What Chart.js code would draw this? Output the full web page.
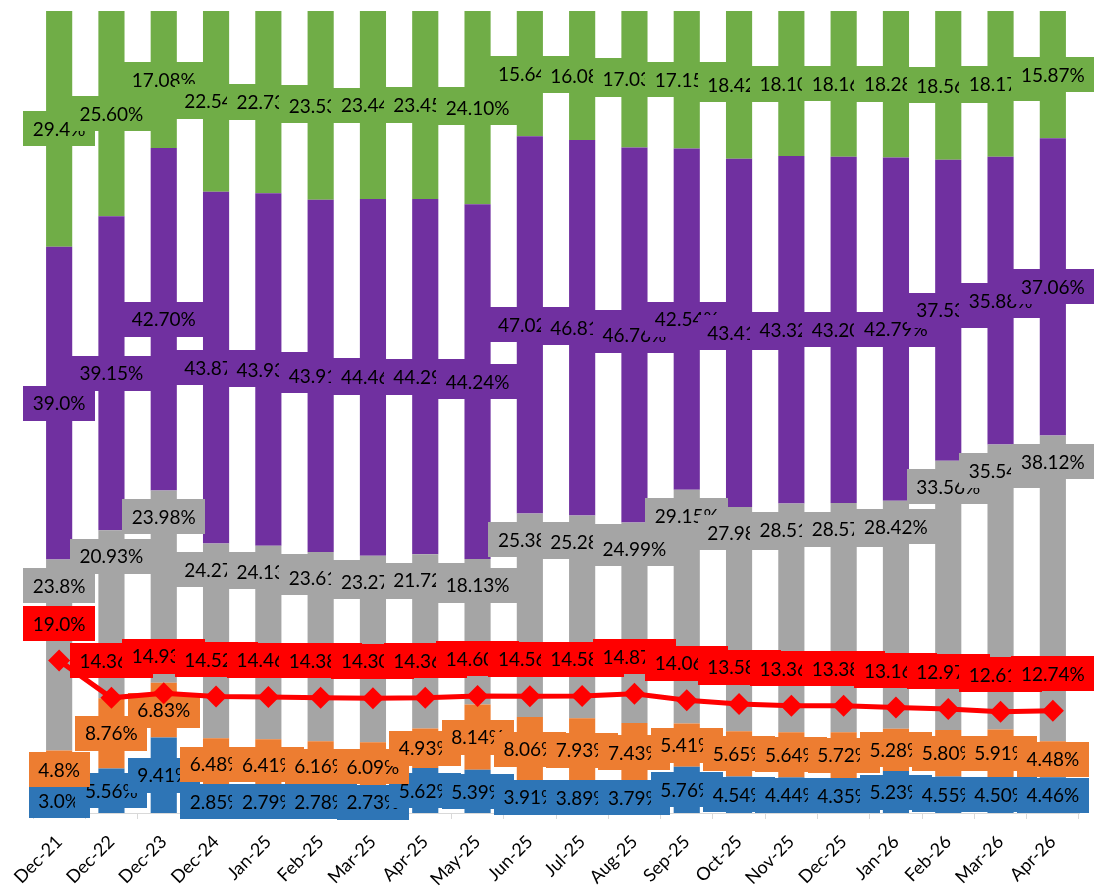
<!DOCTYPE html>
<html lang="en">
<head>
  <meta charset="UTF-8">
  <title>Share by month</title>
  <style>
    html, body {
      margin: 0;
      padding: 0;
      background: #fff;
      overflow: hidden;
    }
    canvas {
      display: block;
    }
  </style>
  <script src="https://cdn.jsdelivr.net/npm/chart.js"></script>
</head>
<body>
<canvas id="shareChart" width="1102" height="893"></canvas>

<script>
  // categories
  const months = ['Dec-21', 'Dec-22', 'Dec-23', 'Dec-24', 'Jan-25', 'Feb-25', 'Mar-25', 'Apr-25', 'May-25', 'Jun-25',
    'Jul-25', 'Aug-25', 'Sep-25', 'Oct-25', 'Nov-25', 'Dec-25', 'Jan-26', 'Feb-26', 'Mar-26', 'Apr-26'];

  // stacked shares (%), bottom to top
  const blueVals = [3.0, 5.56, 9.41, 2.85, 2.79, 2.78, 2.73, 5.62, 5.39, 3.91, 3.89, 3.79, 5.76, 4.54, 4.44, 4.35, 5.23, 4.55, 4.50, 4.46];
  const orangeVals = [4.8, 8.76, 6.83, 6.48, 6.41, 6.16, 6.09, 4.93, 8.14, 8.06, 7.93, 7.43, 5.41, 5.65, 5.64, 5.72, 5.28, 5.80, 5.91, 4.48];
  const grayVals = [23.8, 20.93, 23.98, 24.27, 24.13, 23.61, 23.27, 21.72, 18.13, 25.38, 25.28, 24.99, 29.15, 27.98, 28.51, 28.57, 28.42, 33.56, 35.54, 38.12];
  const purpleVals = [39.0, 39.15, 42.70, 43.87, 43.93, 43.91, 44.46, 44.29, 44.24, 47.02, 46.81, 46.76, 42.54, 43.41, 43.32, 43.20, 42.79, 37.53, 35.88, 37.06];
  const greenVals = [29.4, 25.60, 17.08, 22.54, 22.73, 23.53, 23.44, 23.45, 24.10, 15.64, 16.08, 17.03, 17.15, 18.42, 18.10, 18.16, 18.28, 18.56, 18.17, 15.87];

  // red line (%)
  const redVals = [19.0, 14.36, 14.93, 14.52, 14.46, 14.38, 14.30, 14.36, 14.60, 14.56, 14.58, 14.87, 14.06, 13.58, 13.36, 13.38, 13.16, 12.97, 12.61, 12.74];

  // decimals shown in the data labels for each month
  const labelDecimals = [1, 2, 2, 2, 2, 2, 2, 2, 2, 2, 2, 2, 2, 2, 2, 2, 2, 2, 2, 2];

  const BLUE = '#2E75B6', ORANGE = '#ED7D31', GRAY = '#A5A5A5', PURPLE = '#7030A0', GREEN = '#70AD47', RED = '#FF0000';
  const LABEL_FONT = '19px Lato';

  function fmt(v, i) {
    return v.toFixed(labelDecimals[i]) + '%';
  }

  // label with a filled box like the spreadsheet one
  function drawBoxLabel(ctx, text, cx, cy, bg) {
    ctx.font = LABEL_FONT;
    const w = Math.round(ctx.measureText(text).width + 19);
    const h = 35;
    ctx.fillStyle = bg;
    ctx.fillRect(Math.round(cx - w / 2), Math.round(cy - h / 2), w, h);
    ctx.fillStyle = '#000';
    ctx.textAlign = 'center';
    ctx.textBaseline = 'middle';
    ctx.fillText(text, cx, cy + 1);
  }

  const boxLabels = {
    id: 'boxLabels',
    // bar labels go under the red line, red labels go over everything
    beforeDatasetDraw(chart, args) {
      if (chart.data.datasets[args.index].type !== 'line') return;
      const ctx = chart.ctx;
      ctx.save();
      chart.data.datasets.forEach((ds, di) => {
        if (ds.type === 'line') return;
        const meta = chart.getDatasetMeta(di);
        meta.data.forEach((bar, i) => {
          const top = Math.min(bar.y, bar.base);
          const bottom = Math.max(bar.y, bar.base);
          const cy = ds.labelPos === 'insideEnd' ? top + 26 : (top + bottom) / 2;
          drawBoxLabel(ctx, fmt(ds.data[i], i), bar.x, cy, ds.backgroundColor);
        });
      });
      ctx.restore();
    },
    afterDatasetsDraw(chart) {
      const ctx = chart.ctx;
      ctx.save();
      chart.data.datasets.forEach((ds, di) => {
        if (ds.type !== 'line') return;
        chart.getDatasetMeta(di).data.forEach((pt, i) => {
          drawBoxLabel(ctx, fmt(ds.data[i], i), pt.x, pt.y - 37, RED);
        });
      });
      ctx.restore();
    }
  };

  const ctx = document.getElementById('shareChart').getContext('2d');
  new Chart(ctx, {
    data: {
      labels: months,
      datasets: [
        {
          type: 'line', label: 'Red', data: redVals, stack: 'line', order: 0,
          borderColor: RED, borderWidth: 5, backgroundColor: RED,
          pointStyle: 'rectRot', pointRadius: 11, pointBorderWidth: 0, pointBackgroundColor: RED,
          tension: 0, fill: false
        },
        { type: 'bar', label: 'Blue', data: blueVals, backgroundColor: BLUE, stack: 'bars', order: 1 },
        { type: 'bar', label: 'Orange', data: orangeVals, backgroundColor: ORANGE, stack: 'bars', order: 1 },
        { type: 'bar', label: 'Gray', data: grayVals, backgroundColor: GRAY, stack: 'bars', order: 1, labelPos: 'insideEnd' },
        { type: 'bar', label: 'Purple', data: purpleVals, backgroundColor: PURPLE, stack: 'bars', order: 1 },
        { type: 'bar', label: 'Green', data: greenVals, backgroundColor: GREEN, stack: 'bars', order: 1 }
      ]
    },
    options: {
      responsive: false,
      animation: false,
      layout: { padding: { left: 33, right: 23, top: 6, bottom: 0 } },
      datasets: {
        bar: { categoryPercentage: 1, barPercentage: 0.5, borderWidth: 0 }
      },
      plugins: {
        legend: { display: false },
        tooltip: { enabled: false }
      },
      scales: {
        x: {
          stacked: true,
          offset: true,
          grid: { offset: true, drawOnChartArea: false, drawTicks: true, tickLength: 6, color: '#D9D9D9' },
          border: { color: '#D9D9D9', width: 1 },
          ticks: {
            minRotation: 45, maxRotation: 45, autoSkip: false, padding: 12,
            color: '#000', font: { family: 'Lato', size: 18 }
          },
          afterFit(scale) {
            scale.height = 80;
            scale.paddingLeft = 0;
            scale.paddingRight = 0;
          }
        },
        y: {
          stacked: true,
          display: false,
          min: 0,
          max: 100
        }
      }
    },
    plugins: [boxLabels]
  });
</script>
</body>
</html>
